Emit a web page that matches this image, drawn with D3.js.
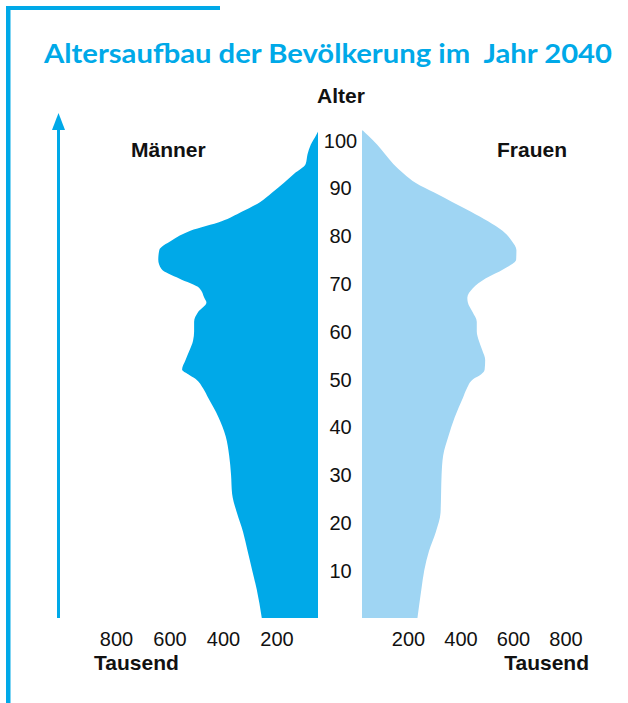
<!DOCTYPE html>
<html>
<head>
<meta charset="utf-8">
<script src="https://cdn.jsdelivr.net/npm/d3@7"></script>
<style>
  body { margin: 0; background: #fff; }
  svg { display: block; }
  .age text, .tick text { font-family: "Liberation Sans", Arial, sans-serif; font-size: 20px; fill: #111; }
  .label { font-family: "Liberation Sans", Arial, sans-serif; font-weight: bold; font-size: 21px; fill: #111; }
</style>
</head>
<body>
<svg id="chart" width="628" height="703"></svg>
<script>
// ages (years) and population in thousands
const ages = [0, 6, 10, 14, 18, 22, 26, 30, 34, 38, 42, 46, 48, 50, 51, 52, 54, 56, 58, 60,
  62, 64, 66, 67, 69, 71, 73, 75, 77, 79, 81, 83, 85, 87, 89, 91, 93, 95, 97, 99, 101, 102];
const maenner = [255, 274, 291, 308, 325, 348, 366, 370, 377, 390, 417, 455, 474, 502, 530, 553, 540, 525, 512, 508,
  508, 493, 462, 470, 488, 564, 630, 642, 638, 592, 522, 405, 330, 262, 216, 173, 133, 91, 84, 72, 52, 43];
const frauen = [236, 251, 262, 280, 306, 324, 326, 328, 334, 354, 378, 409, 424, 449, 479, 492, 494, 483, 470, 462,
  462, 446, 428, 426, 447, 495, 565, 612, 613, 594, 560, 505, 440, 370, 300, 230, 183, 144, 113, 83, 47, 28];
const ageTicks = [10, 20, 30, 40, 50, 60, 70, 80, 90, 100];
const valueTicks = [200, 400, 600, 800];
const title = "Altersaufbau der Bevölkerung im  Jahr 2040";

const blue = "#00a9e8";
const lightBlue = "#9fd5f3";

const svg = d3.select("#chart");

let yScale = d3.scaleLinear().domain([0, 100]).range([618, 140]);
let xMen = d3.scaleLinear().domain([0, 800]).range([330, 116]);
let xWomen = d3.scaleLinear().domain([0, 800]).range([355.5, 565.5]);

// frame
svg.append("rect").attr("x", 6).attr("y", 6).attr("width", 214).attr("height", 4).attr("fill", blue);
svg.append("rect").attr("x", 6).attr("y", 6).attr("width", 4.5).attr("height", 697).attr("fill", blue);

// title
svg.append("text")
  .attr("x", 44)
  .attr("y", 63)
  .attr("textLength", 568)
  .attr("lengthAdjust", "spacingAndGlyphs")
  .style("white-space", "pre")
  .style("font-family", "Lato, 'Open Sans', sans-serif")
  .style("font-weight", "bold")
  .style("font-size", "27px")
  .attr("fill", blue)
  .text(title);

// pyramid halves
let areaMen = d3.area()
  .curve(d3.curveMonotoneY)
  .y((d, i) => yScale(ages[i]))
  .x0(xMen(0))
  .x1(d => xMen(d));
let areaWomen = d3.area()
  .curve(d3.curveMonotoneY)
  .y((d, i) => yScale(ages[i]))
  .x0(xWomen(0))
  .x1(d => xWomen(d));

svg.append("path").datum(maenner).attr("d", areaMen).attr("fill", blue);
svg.append("path").datum(frauen).attr("d", areaWomen).attr("fill", lightBlue);

// white column for the age labels
svg.append("rect").attr("x", 318).attr("y", 100).attr("width", 44).attr("height", 530).attr("fill", "#fff");

// age axis
let ageAxis = d3.axisLeft(yScale).tickValues(ageTicks).tickSize(0).tickPadding(0);
let ageG = svg.append("g").attr("class", "age").attr("transform", "translate(340.5,0)").call(ageAxis);
ageG.select(".domain").remove();
ageG.selectAll("text").attr("text-anchor", "middle").attr("x", 0).attr("dy", "0.35em");

// value axes
let axMen = svg.append("g").attr("class", "val").attr("transform", "translate(0,632)")
  .call(d3.axisBottom(xMen).tickValues(valueTicks).tickSize(0).tickPadding(0));
let axWomen = svg.append("g").attr("class", "val").attr("transform", "translate(0,632)")
  .call(d3.axisBottom(xWomen).tickValues(valueTicks).tickSize(0).tickPadding(0));
axMen.select(".domain").remove();
axWomen.select(".domain").remove();
svg.selectAll(".val .tick text").attr("dy", "0.72em");

// labels
svg.append("text").attr("class", "label").attr("x", 341).attr("y", 103).attr("text-anchor", "middle").text("Alter");
svg.append("text").attr("class", "label").attr("x", 131).attr("y", 157).text("Männer");
svg.append("text").attr("class", "label").attr("x", 567).attr("y", 157).attr("text-anchor", "end").text("Frauen");
svg.append("text").attr("class", "label").attr("x", 94).attr("y", 670).text("Tausend");
svg.append("text").attr("class", "label").attr("x", 589).attr("y", 670).attr("text-anchor", "end").text("Tausend");

// age arrow
svg.append("line")
  .attr("x1", 58.5).attr("x2", 58.5)
  .attr("y1", yScale(0)).attr("y2", 128)
  .attr("stroke", blue).attr("stroke-width", 3);
svg.append("path")
  .attr("d", "M52,130 L65,130 L58.5,113 Z")
  .attr("fill", blue);
</script>
</body>
</html>
